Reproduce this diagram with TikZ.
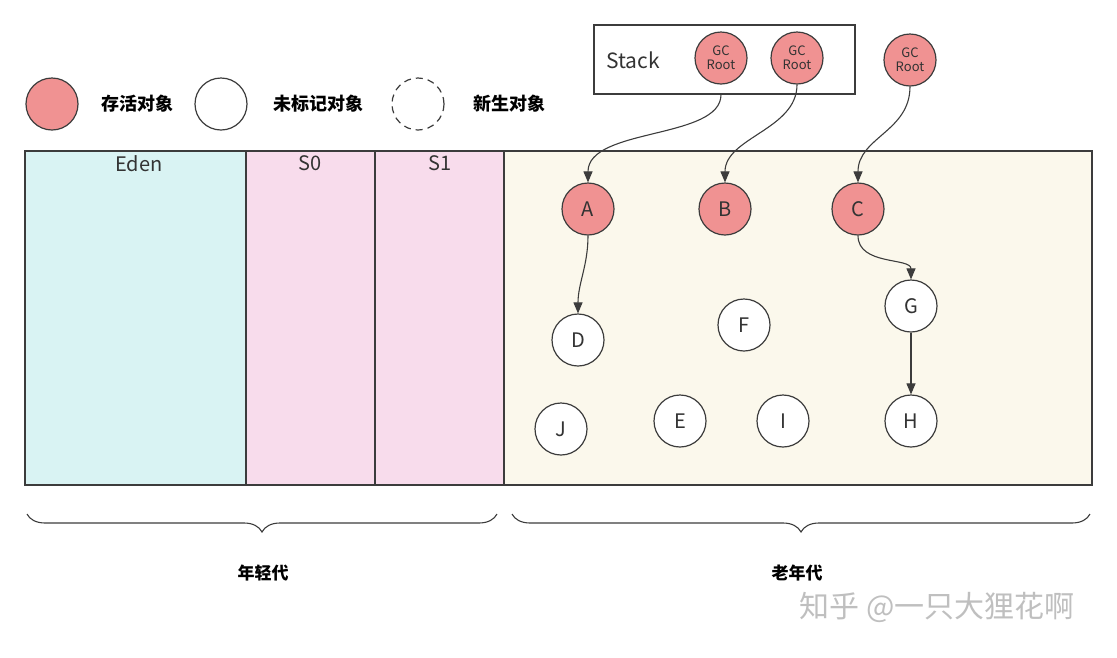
\documentclass[tikz,border=0pt]{standalone}
\usepackage{fontspec}
\setmainfont{Noto Sans CJK SC}
\usetikzlibrary{arrows.meta,decorations.pathreplacing}
\definecolor{liveRed}{RGB}{240,146,146}
\definecolor{lineGray}{RGB}{60,60,60}
\definecolor{edenCyan}{RGB}{217,243,243}
\definecolor{survPink}{RGB}{248,220,236}
\definecolor{oldCream}{RGB}{251,248,236}

\begin{document}
\begin{tikzpicture}
[x=1pt,y=-1pt,
  liveNode/.style={shape=circle,minimum size=52pt,inner sep=0pt,draw=lineGray,line width=1.2pt,fill=liveRed,text=black!80,font=\fontsize{20}{24}\selectfont},%
  plainNode/.style={liveNode,fill=white},%
  rootNode/.style={liveNode,align=center,font=\fontsize{13}{14}\selectfont},%
  regionDecorate/.style={draw=lineGray,line width=1.2pt},%
  arrowDecorate/.style={-{Triangle[length=11pt,width=9pt]},line width=1.1pt,draw=lineGray},%
  braceDecorate/.style={decorate,decoration={brace,amplitude=18pt,mirror},line width=1.1pt,draw=lineGray},%
  legendText/.style={anchor=west,font=\fontsize{18}{20}\selectfont\bfseries},%
  genText/.style={font=\fontsize{17}{19}\selectfont\bfseries},%
  areaText/.style={anchor=north,font=\fontsize{20}{24}\selectfont,text=black!80}]
\useasboundingbox (0,0) rectangle (1117,657);
%% legend
\node (legLive) at (52,104) [liveNode] {};
\node at (98,104) [legendText] {存活对象};
\node (legPlain) at (221,104) [plainNode] {};
\node at (270,104) [legendText] {未标记对象};
\node (legNew) at (418,104) [plainNode,dash pattern=on 7pt off 5pt] {};
\node at (470,104) [legendText] {新生对象};
%% heap areas
\draw[regionDecorate,fill=edenCyan] (25,151) rectangle (246,485);
\draw[regionDecorate,fill=survPink] (246,151) rectangle (375,485);
\draw[regionDecorate,fill=survPink] (375,151) rectangle (504,485);
\draw[regionDecorate,fill=oldCream] (504,151) rectangle (1092,485);
\node (eden) at (139,152) [areaText] {Eden};
\node (s0) at (310,152) [areaText] {S0};
\node (s1) at (440,152) [areaText] {S1};
%% stack and roots
\node (stack) at (724.5,59.5) [regionDecorate,minimum width=261pt,minimum height=69pt] {};
\node (stackLabel) at (633,60) [font=\fontsize{21}{24}\selectfont,text=black!80] {Stack};
\foreach \nodename/\x/\y in {r1/721/58, r2/797/58, r3/910/60}
{
  \node (\nodename) at (\x,\y) [rootNode] {GC\\Root};
}
%% objects
\foreach \nodename/\x/\y in {A/588/209, B/725/209, C/858/209}
{
  \node (\nodename) at (\x,\y) [liveNode] {\nodename};
}
\foreach \nodename/\x/\y in {
  D/578/340, F/744/325, G/911/306, J/561/429,
  E/680/421, I/783/421, H/911/421}
{
  \node (\nodename) at (\x,\y) [plainNode] {\nodename};
}
%% references
\draw[arrowDecorate] (r1 |- stack.south) .. controls +(0,45) and +(0,-55) .. (A.north);
\draw[arrowDecorate] (r2.south) .. controls +(0,45) and +(0,-45) .. (B.north);
\draw[arrowDecorate] (r3.south) .. controls +(0,45) and +(0,-45) .. (C.north);
\draw[arrowDecorate] (A.south) .. controls +(0,30) and +(0,-30) .. (D.north);
\draw[arrowDecorate] (C.south) .. controls +(0,30) and +(0,-22) .. (G.north);
\draw[arrowDecorate] (G) -- (H);
%% generations
\coordinate (youngL) at (27,514);
\coordinate (youngR) at (497,514);
\coordinate (oldL) at (512,514);
\coordinate (oldR) at (1090,514);
\draw[braceDecorate] (youngL) -- (youngR);
\draw[braceDecorate] (oldL) -- (oldR);
\node (young) at (263,573) [genText] {年轻代};
\node (old) at (797,573) [genText] {老年代};
\node (mark) at (937,607) [font=\fontsize{30}{34}\selectfont,text=black!25] {知乎 @一只大狸花啊};
\end{tikzpicture}
\end{document}
